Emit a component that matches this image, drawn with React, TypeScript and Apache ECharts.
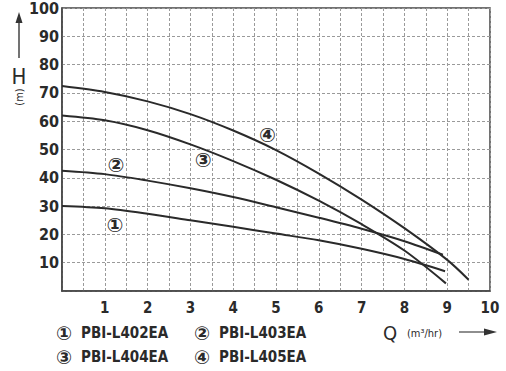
import React, { useEffect, useRef } from "react";
import * as echarts from "echarts";

const SERIES_NAMES = ["PBI-L402EA", "PBI-L403EA", "PBI-L404EA", "PBI-L405EA"];
const MARKERS = ["①", "②", "③", "④"];

const CURVE_1 = [[0, 30], [1, 29.2], [2, 27.3], [3, 25], [4, 22.7], [5, 20.3], [6, 17.9], [7, 14.9], [8, 11.3], [8.95, 7]];
const CURVE_2 = [[0, 42.5], [1, 41.3], [2, 39], [3, 36.3], [4, 33.2], [5, 29.6], [6, 25.9], [7, 22], [8, 17.6], [8.9, 12.8]];
const CURVE_3 = [[0, 62], [1, 60.3], [2, 56.8], [3, 51.8], [4, 45.9], [5, 39.3], [6, 31.9], [7, 23.6], [8, 14.3], [8.97, 2.7]];
const CURVE_4 = [[0, 72.4], [1, 70.3], [2, 67], [3, 62.5], [4, 56.7], [5, 49.8], [6, 41.5], [7, 32.3], [8, 22.2], [9, 11], [9.5, 4]];
const CURVES = [CURVE_1, CURVE_2, CURVE_3, CURVE_4];

// where the circled numbers sit, in data units (Q, H)
const MARKER_AT = [[1.24, 23.3], [1.26, 44.5], [3.3, 46.3], [4.8, 55]];

const X_LABELS = ["1", "2", "3", "4", "5", "6", "7", "8", "9", "10"];
const Y_LABELS = ["10", "20", "30", "40", "50", "60", "70", "80", "90", "100"];

const INK = "#2a2a2a";
const LABEL_FONT = "'DejaVu Sans Condensed', 'DejaVu Sans', sans-serif";
const CIRCLE_FONT = "'DejaVu Sans', 'Noto Sans CJK SC', sans-serif";

export default function App() {
  const ref = useRef<HTMLDivElement>(null);
  useEffect(() => {
    if (!ref.current) return;
    const chart = echarts.init(ref.current, undefined, { renderer: "svg" });

    const legendItems: any[] = [];
    const legendPos = [[56, 333], [194, 333], [56, 357], [194, 357]];
    SERIES_NAMES.forEach((name, i) => {
      const [lx, ly] = legendPos[i];
      legendItems.push({
        type: "text",
        x: lx,
        y: ly,
        style: { text: MARKERS[i], font: `bold 19px ${CIRCLE_FONT}`, fill: INK, textVerticalAlign: "middle" },
      });
      legendItems.push({
        type: "text",
        x: lx + 25,
        y: ly,
        style: { text: name, font: `bold 15px ${LABEL_FONT}`, fill: INK, textVerticalAlign: "middle" },
      });
    });

    chart.setOption({
      animation: false,
      grid: {
        left: 62,
        right: 16,
        top: 8,
        bottom: 80,
        show: true,
        borderColor: "#444",
        borderWidth: 1.5,
        backgroundColor: "transparent",
      },
      xAxis: {
        type: "value",
        min: 0,
        max: 10,
        interval: 0.5,
        axisLine: { show: true, lineStyle: { color: "#444", width: 1.5 } },
        axisTick: { show: false },
        axisLabel: {
          margin: 9,
          fontFamily: LABEL_FONT,
          fontSize: 15,
          fontWeight: "bold",
          color: INK,
          showMaxLabel: true,
          formatter: (v: number) => {
            const idx = X_LABELS.indexOf(String(v));
            return idx >= 0 ? X_LABELS[idx] : "";
          },
        },
        splitLine: { show: true, lineStyle: { color: "#9a9a9a", type: [3, 2], width: 1 } },
      },
      yAxis: {
        type: "value",
        min: 0,
        max: 100,
        interval: 10,
        axisLine: { show: true, lineStyle: { color: "#444", width: 1.5 } },
        axisTick: { show: false },
        axisLabel: {
          margin: 3,
          padding: [10, 0, 0, 0],
          fontFamily: LABEL_FONT,
          fontSize: 16,
          fontWeight: "bold",
          color: INK,
          formatter: (v: number) => {
            const idx = Y_LABELS.indexOf(String(v));
            return idx >= 0 ? Y_LABELS[idx] : "";
          },
        },
        splitLine: { show: true, lineStyle: { color: "#9a9a9a", type: [3, 2], width: 1 } },
      },
      series: CURVES.map((curve, i) => ({
        type: "line",
        name: SERIES_NAMES[i],
        data: curve,
        smooth: 0.3,
        showSymbol: false,
        lineStyle: { color: INK, width: 2 },
        markPoint: {
          symbol: "circle",
          symbolSize: 1,
          itemStyle: { color: "rgba(0,0,0,0)" },
          label: {
            show: true,
            position: "inside",
            formatter: MARKERS[i],
            fontFamily: CIRCLE_FONT,
            fontSize: 20,
            fontWeight: "bold",
            color: INK,
          },
          data: [{ coord: MARKER_AT[i] }],
        },
      })),
      graphic: [
        // y-axis arrow and title
        { type: "line", shape: { x1: 19, y1: 22, x2: 19, y2: 58 }, style: { stroke: "#444", lineWidth: 1.5 } },
        { type: "polygon", shape: { points: [[19, 12], [15.5, 23], [22.5, 23]] }, style: { fill: "#333" } },
        {
          type: "text",
          x: 19,
          y: 76,
          style: { text: "H", font: `22px ${LABEL_FONT}`, fill: INK, textAlign: "center", textVerticalAlign: "middle" },
        },
        {
          type: "text",
          x: 19,
          y: 97,
          rotation: Math.PI / 2,
          style: { text: "(m)", font: `11px ${LABEL_FONT}`, fill: INK, textAlign: "center", textVerticalAlign: "middle" },
        },
        // x-axis title and arrow
        {
          type: "text",
          x: 383,
          y: 333,
          style: { text: "Q", font: `20px ${LABEL_FONT}`, fill: INK, textVerticalAlign: "middle" },
        },
        {
          type: "text",
          x: 407,
          y: 333,
          style: { text: "(m³/hr)", font: `11px ${LABEL_FONT}`, fill: INK, textVerticalAlign: "middle" },
        },
        { type: "line", shape: { x1: 459, y1: 332, x2: 486, y2: 332 }, style: { stroke: "#444", lineWidth: 1.2 } },
        { type: "polygon", shape: { points: [[497, 332], [484, 328.5], [484, 335.5]] }, style: { fill: "#333" } },
        ...legendItems,
      ],
    });
    return () => chart.dispose();
  }, []);
  return <div ref={ref} style={{ position: "fixed", left: 0, top: 0, width: 506, height: 371, background: "#fff" }} />;
}
